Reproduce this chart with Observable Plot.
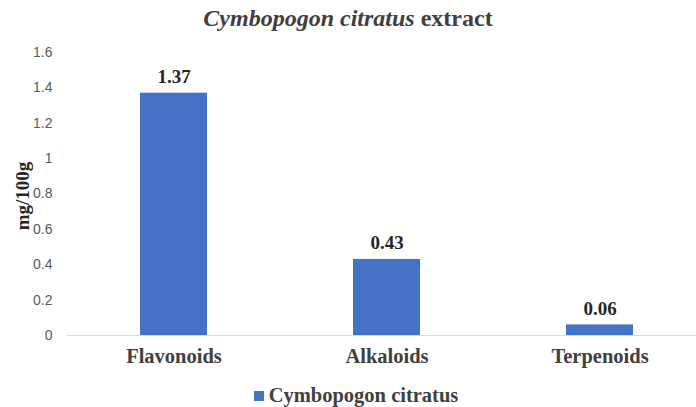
<!DOCTYPE html>
<html>
<head>
<meta charset="utf-8">
<script src="https://cdn.jsdelivr.net/npm/d3@7"></script>
<script src="https://cdn.jsdelivr.net/npm/@observablehq/plot@0.6"></script>
<style>
  body { margin: 0; background: #fff; }
  #wrap { width: 696px; height: 407px; position: relative; overflow: hidden; }
  #title { height: 36px; line-height: 36px; text-align: center; font-family: "Liberation Serif", serif; font-weight: bold; font-size: 24px; color: #404040; }
  #legend { text-align: center; font-family: "Liberation Serif", serif; font-weight: bold; font-size: 20.5px; line-height: 24px; color: #404040; margin-top: 3px; padding-left: 16px; }
  #legend .sw { display: inline-block; width: 10px; height: 10px; background: #4472C4; margin-right: 5px; vertical-align: 1px; }
  svg { display: block; overflow: hidden; }
</style>
</head>
<body>
<div id="wrap">
  <div id="title"><i>Cymbopogon citratus</i> extract</div>
  <div id="chart"></div>
  <div id="legend"><span class="sw"></span>Cymbopogon citratus</div>
</div>
<script>
const categories = ["Flavonoids", "Alkaloids", "Terpenoids"];
const values = [1.37, 0.43, 0.06];
const yTicks = [0, 0.2, 0.4, 0.6, 0.8, 1, 1.2, 1.4, 1.6];
const seriesName = "Cymbopogon citratus";

const data = categories.map((c, i) => ({category: c, value: values[i]}));

const chart = Plot.plot({
  width: 696,
  height: 344,
  marginTop: 16,
  marginBottom: 45,
  marginLeft: 67,
  marginRight: -10,
  style: {fontFamily: "Liberation Sans, sans-serif", background: "white", overflow: "hidden"},
  x: {domain: categories, paddingInner: 0.685, paddingOuter: 0.3425, label: null},
  y: {domain: [0, 1.6], ticks: yTicks, label: null},
  marks: [
    Plot.axisY({ticks: yTicks, tickSize: 0, tickPadding: 15, fontSize: 14, color: "#595959", tickFormat: d => String(d), label: null}),
    Plot.axisX({tickSize: 0, tickPadding: 13, fontSize: 20.5, fontWeight: "bold", fontFamily: "Liberation Serif, serif", color: "#404040", label: null}),
    Plot.barY(data, {x: "category", y: "value", fill: "#4472C4"}),
    Plot.ruleY([0], {stroke: "#d9d9d9", strokeWidth: 1}),
    Plot.text(data, {x: "category", y: "value", text: d => d.value.toFixed(2), dy: -10, lineAnchor: "bottom", fontSize: 19, fontWeight: "bold", fontFamily: "Liberation Serif, serif", fill: "#262626"}),
    Plot.text([seriesName], {frameAnchor: "left", textAnchor: "middle", dx: -45, dy: 2, rotate: -90, text: () => "mg/100g", fontSize: 19, fontWeight: "bold", fontFamily: "Liberation Serif, serif", fill: "#262626"})
  ]
});
document.getElementById("chart").appendChild(chart);
</script>
</body>
</html>
